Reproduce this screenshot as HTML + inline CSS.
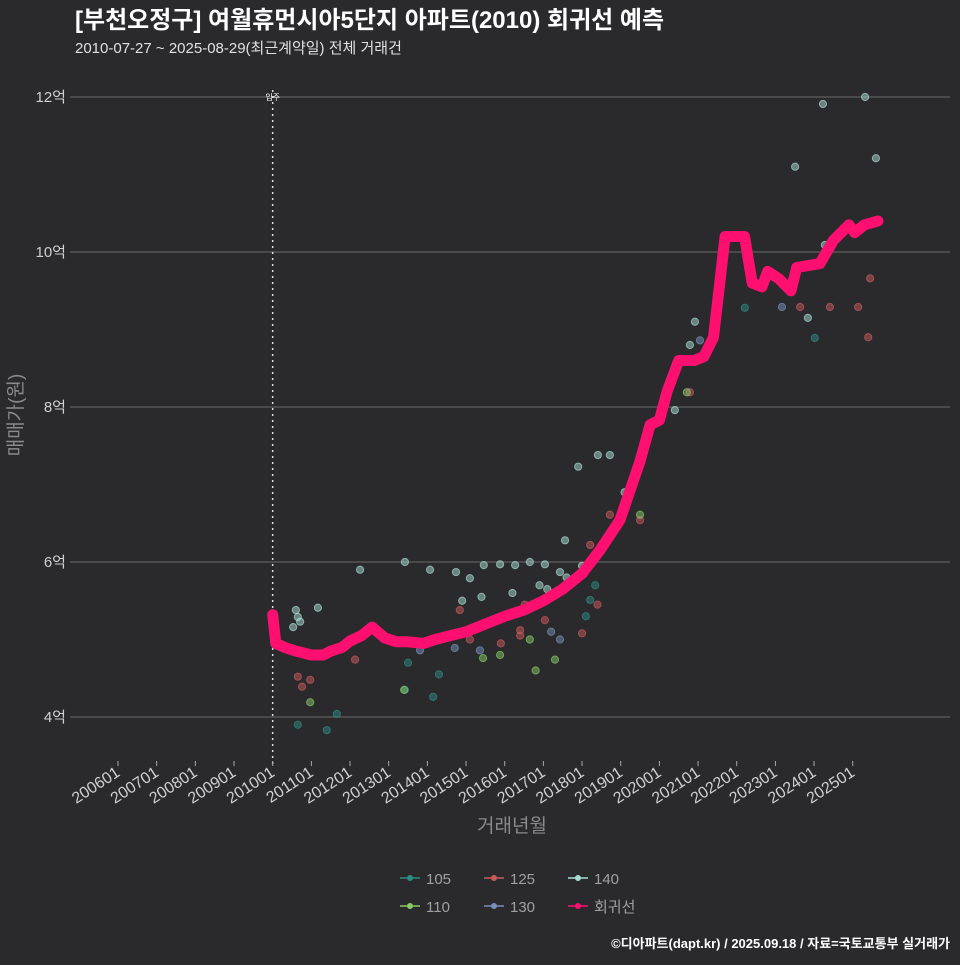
<!DOCTYPE html>
<html><head><meta charset="utf-8">
<style>
html,body{margin:0;padding:0;background:#2a2a2c;}
body{width:960px;height:960px;overflow:hidden;font-family:"Liberation Sans","Noto Sans CJK KR",sans-serif;}
svg text{font-family:"Liberation Sans","Noto Sans CJK KR",sans-serif;}
</style></head>
<body>
<svg id="chart" width="960" height="960" xmlns="http://www.w3.org/2000/svg">
<rect width="960" height="960" fill="#2a2a2c"/>
<text x="75" y="28" fill="#ffffff" font-size="24" font-weight="bold">[부천오정구] 여월휴먼시아5단지 아파트(2010) 회귀선 예측</text>
<text x="75" y="53" fill="#e0e0e0" font-size="15">2010-07-27 ~ 2025-08-29(최근계약일) 전체 거래건</text>
<g id="grid"></g><g id="xaxis"></g><g id="pts"></g><g id="line"></g>
<text transform="translate(22,415) rotate(-90)" text-anchor="middle" fill="#8a8a8a" font-size="19">매매가(원)</text>
<text x="512" y="832" text-anchor="middle" fill="#8a8a8a" font-size="19">거래년월</text>
<g id="legend"></g>
<text x="950" y="948" text-anchor="end" fill="#ffffff" font-size="13" font-weight="bold">©디아파트(dapt.kr) / 2025.09.18 / 자료=국토교통부 실거래가</text>
</svg>
<script>
const xTickLabels=["200601","200701","200801","200901","201001","201101","201201","201301","201401","201501","201601","201701","201801","201901","202001","202101","202201","202301","202401","202501"];
const yTicks=[4,6,8,10,12];
const lineYears=[2010.0,2010.08,2010.3,2010.6,2011.0,2011.3,2011.5,2011.8,2012.0,2012.3,2012.57,2012.9,2013.2,2013.5,2013.9,2014.2,2014.6,2015.0,2015.5,2016.0,2016.5,2017.0,2017.5,2018.0,2018.46,2018.98,2019.5,2019.76,2020.0,2020.2,2020.5,2020.9,2021.15,2021.4,2021.7,2022.2,2022.4,2022.65,2022.8,2023.1,2023.4,2023.55,2024.15,2024.5,2024.9,2025.05,2025.3,2025.65];
const lineValues=[5.32,4.95,4.9,4.85,4.8,4.8,4.85,4.9,4.98,5.05,5.16,5.02,4.97,4.97,4.95,5.0,5.05,5.1,5.2,5.3,5.38,5.5,5.65,5.85,6.15,6.54,7.3,7.77,7.83,8.2,8.6,8.6,8.65,8.9,10.2,10.2,9.6,9.55,9.75,9.65,9.5,9.8,9.85,10.15,10.35,10.25,10.35,10.4];
const ptCats=["140","140","140","140","140","140","140","140","140","140","140","140","140","140","140","140","140","140","140","140","140","140","140","140","140","140","140","140","140","140","105","105","105","105","105","105","105","105","105","125","125","125","125","125","125","125","125","125","125","125","125","125","125","125","125","125","125","125","110","110","110","110","110","110","110","110","130","130","130","130","130","130","140","140","140","140","140","140","140","105","105","125","125","130","105","125","140","110"];
const ptYears=[2010.6,2010.65,2010.71,2010.53,2011.17,2012.26,2013.42,2014.07,2014.74,2015.1,2015.46,2015.88,2016.27,2016.65,2017.04,2017.43,2017.56,2017.9,2018.41,2018.72,2019.5,2020.4,2020.79,2020.92,2023.51,2024.23,2025.32,2025.6,2024.28,2023.84,2010.65,2011.4,2011.66,2013.42,2014.15,2018.21,2018.34,2024.02,2022.21,2010.65,2010.76,2010.97,2012.13,2014.84,2015.1,2016.4,2016.52,2018.21,2018.72,2019.5,2020.79,2023.64,2024.41,2025.14,2025.45,2025.4,2018.0,2017.04,2010.97,2013.4,2015.44,2015.88,2016.65,2017.3,2019.5,2020.71,2013.81,2014.71,2015.36,2017.43,2021.05,2023.17,2016.9,2017.1,2017.6,2018.0,2016.2,2014.9,2015.4,2013.5,2014.3,2015.9,2016.4,2017.2,2018.1,2018.4,2019.1,2016.8];
const ptValues=[5.38,5.29,5.23,5.16,5.41,5.9,6.0,5.9,5.87,5.79,5.96,5.97,5.96,6.0,5.97,5.87,6.28,7.23,7.38,7.38,7.32,7.96,8.8,9.1,11.1,11.91,12.0,11.21,10.09,9.15,3.9,3.83,4.04,4.35,4.26,5.51,5.7,8.89,9.28,4.52,4.39,4.48,4.74,5.38,5.0,5.12,5.45,6.22,6.61,6.54,8.19,9.29,9.29,9.29,9.66,8.9,5.08,5.25,4.19,4.35,4.76,4.8,5.0,4.74,6.61,8.19,4.86,4.89,4.86,5.0,8.86,9.29,5.7,5.65,5.8,5.95,5.6,5.5,5.55,4.7,4.55,4.95,5.05,5.1,5.3,5.45,6.9,4.6];
const catColors={"105":"#2f8a80","110":"#88c866","125":"#c85a5e","130":"#7890b8","140":"#a8dcd2"};
const NS="http://www.w3.org/2000/svg";
const X0=118,PXY=38.67,Y0=717,PXV=77.5;
function sx(y){return X0+(y-2006)*PXY;}
function sy(v){return Y0-(v-4)*PXV;}
function mk(t,a,p){const e=document.createElementNS(NS,t);for(const k in a)e.setAttribute(k,a[k]);p.appendChild(e);return e;}
const grid=document.getElementById('grid');
yTicks.forEach(v=>{
  const l=mk('line',{x1:70,x2:950,y1:sy(v),y2:sy(v),stroke:'#5e5e5e','stroke-width':1.3},grid);
  
  
  const t=mk('text',{x:66,y:sy(v)+5,'text-anchor':'end',fill:'#d0d0d0','font-size':15},grid);
  t.textContent=v+'억';
  
  
});
const vl=mk('line',{x1:sx(2010),x2:sx(2010),y1:90,y2:765,stroke:'#dddddd','stroke-width':1.5,'stroke-dasharray':'2,4'},grid);


const vt=mk('text',{x:sx(2010),y:100,'text-anchor':'middle',fill:'#fff','font-size':8},grid);
vt.textContent='입주';


const xa=document.getElementById('xaxis');
xTickLabels.forEach((lab,i)=>{
  const x=sx(2006+i);
  const tk=mk('line',{x1:x,x2:x,y1:761,y2:766,stroke:'#aaa','stroke-width':1},xa);
  
  
  const t=mk('text',{transform:`translate(${x+3},${775}) rotate(-33)`,'text-anchor':'end',fill:'#d0d0d0','font-size':16},xa);
  t.textContent=lab;
  
  
});
const pts=document.getElementById('pts');
ptYears.forEach((yr,i)=>{
  const c=mk('circle',{cx:sx(yr),cy:sy(ptValues[i]),r:3.6,fill:catColors[ptCats[i]],'fill-opacity':0.5,stroke:catColors[ptCats[i]],'stroke-opacity':0.7},pts);
  
  
});
const lg=document.getElementById('line');
const d=lineYears.map((y,i)=>(i?'L':'M')+sx(y).toFixed(1)+','+sy(lineValues[i]).toFixed(1)).join('');
const p=mk('path',{d:d,fill:'none',stroke:'#ff1070','stroke-width':11,'stroke-linejoin':'round','stroke-linecap':'round'},lg);


const legend=document.getElementById('legend');
const legItems=[["105",400,878],["125",484,878],["140",568,878],["110",400,906],["130",484,906],["회귀선",568,906]];
legItems.forEach(([n,x,y])=>{
  const g=mk('g',{},legend);
  
  
  const col=n==='회귀선'?'#ff1070':catColors[n];
  mk('line',{x1:x,x2:x+20,y1:y,y2:y,stroke:col,'stroke-width':1.5},g);
  mk('circle',{cx:x+10,cy:y,r:3,fill:col},g);
  const t=mk('text',{x:x+26,y:y+6,fill:'#a0a0a0','font-size':15},g);
  t.textContent=n;
});
</script>
</body></html>
